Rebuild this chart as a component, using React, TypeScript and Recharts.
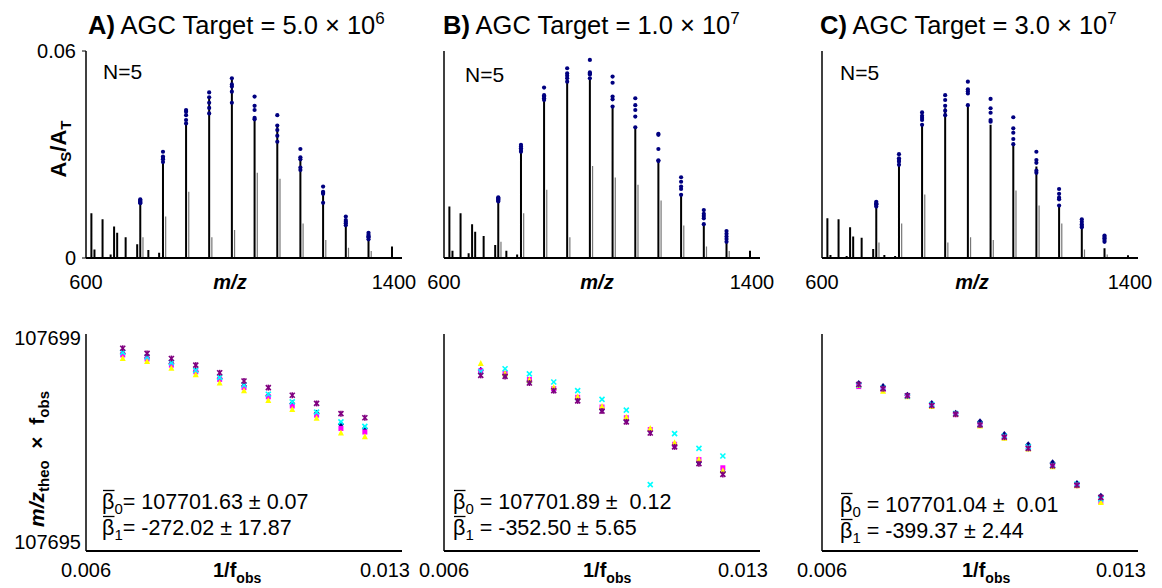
import React from 'react'
import { ComposedChart, ScatterChart, Line, Scatter, XAxis, YAxis } from 'recharts'

// charge-state peaks (m/z) shared by the three spectra
const chargeMz = [741, 800, 860, 920, 979, 1038, 1097, 1157, 1216, 1275, 1334]
const adductMz = [748, 807, 867, 927, 986, 1045, 1104, 1164, 1223, 1282, 1341]
const minorMz = [614, 622, 643, 664, 673, 681, 703, 733, 762, 790, 1395]

// spectrum stick heights (A_S/A_T)
const lineA = [0.0159, 0.0278, 0.039, 0.0463, 0.0516, 0.0402, 0.0386, 0.0294, 0.0192, 0.011, 0.006]
const lineB = [0.0164, 0.0308, 0.0458, 0.0516, 0.0521, 0.0439, 0.0379, 0.0282, 0.0183, 0.0098, 0.0047]
const lineC = [0.0149, 0.027, 0.0386, 0.0434, 0.0443, 0.0386, 0.033, 0.0265, 0.0152, 0.0086, 0.0028]
const adductA = [0.006, 0.012, 0.0192, 0.006, 0.0081, 0.0247, 0.023, 0.01, 0.0052, 0.003, 0.002]
const adductB = [0.0047, 0.013, 0.0198, 0.006, 0.0267, 0.0233, 0.0212, 0.0167, 0.0094, 0.0033, 0.002]
const adductC = [0.0045, 0.01, 0.0184, 0.0045, 0.006, 0.0052, 0.0196, 0.0152, 0.01, 0.0025, 0.001]
const minorA = [0.013, 0.0025, 0.0112, 0.001, 0.0091, 0.0073, 0.006, 0.004, 0.0023, 0.0015, 0.0033]
const minorB = [0.0149, 0.0021, 0.013, 0.0014, 0.0098, 0.0076, 0.0064, 0.0038, 0.0021, 0.001, 0.0021]
const minorC = [0.0115, 0.0009, 0.0112, 0.0006, 0.0089, 0.0062, 0.0059, 0.0026, 0.0009, 0.0006, 0.0008]

// N=5 replicate abundances per charge state
const dotsA = [
  [0.017, 0.0167, 0.0164, 0.0161, 0.0159],
  [0.0308, 0.0294, 0.029, 0.0286, 0.0278],
  [0.0429, 0.0424, 0.0414, 0.04, 0.039],
  [0.048, 0.0466, 0.045, 0.0435, 0.0419],
  [0.0521, 0.0503, 0.0497, 0.0482, 0.045],
  [0.0468, 0.0441, 0.0429, 0.0406, 0.0402],
  [0.0414, 0.0384, 0.0371, 0.0354, 0.0337],
  [0.0316, 0.0292, 0.0286, 0.0262, 0.0255],
  [0.0207, 0.0192, 0.0189, 0.0186, 0.016],
  [0.012, 0.011, 0.0105, 0.0101, 0.0095],
  [0.0073, 0.0067, 0.0063, 0.006, 0.0054],
]
const dotsB = [
  [0.0176, 0.0173, 0.017, 0.0167, 0.0164],
  [0.0328, 0.0323, 0.0318, 0.0313, 0.0308],
  [0.0494, 0.0472, 0.0468, 0.0463, 0.0458],
  [0.055, 0.0535, 0.0528, 0.0521, 0.0511],
  [0.0574, 0.0538, 0.0535, 0.0532, 0.0521],
  [0.0526, 0.0508, 0.0468, 0.046, 0.0439],
  [0.0463, 0.0443, 0.0429, 0.041, 0.0379],
  [0.036, 0.0357, 0.0316, 0.0283, 0.0281],
  [0.0234, 0.0221, 0.0207, 0.02, 0.0183],
  [0.0139, 0.0128, 0.0122, 0.0115, 0.0098],
  [0.0078, 0.007, 0.0062, 0.0055, 0.0047],
]
const dotsC = [
  [0.0163, 0.0159, 0.0156, 0.0154, 0.0149],
  [0.0301, 0.0289, 0.0284, 0.0279, 0.027],
  [0.0422, 0.0412, 0.0406, 0.04, 0.0386],
  [0.0472, 0.0458, 0.0441, 0.0427, 0.0414],
  [0.0511, 0.0489, 0.0483, 0.0477, 0.0443],
  [0.0461, 0.0434, 0.0421, 0.04, 0.0395],
  [0.0408, 0.0376, 0.0363, 0.0345, 0.033],
  [0.0308, 0.0284, 0.0276, 0.0253, 0.0247],
  [0.02, 0.0186, 0.0175, 0.017, 0.0152],
  [0.0112, 0.0105, 0.0098, 0.0093, 0.0089],
  [0.0065, 0.0061, 0.0057, 0.0052, 0.0047],
]

// bottom row: 1/f_obs and m/z_theo x f_obs for the five replicates
const invF = [0.00686, 0.00743, 0.008, 0.00857, 0.00913, 0.0097, 0.01027, 0.01083, 0.0114, 0.01197, 0.01253]

const navyA = [107698.7, 107698.61, 107698.5, 107698.35, 107698.21, 107698.06, 107697.87, 107697.72, 107697.53, 107697.31, 107697.23]
const magentaA = [107698.67, 107698.59, 107698.47, 107698.34, 107698.19, 107698.03, 107697.85, 107697.67, 107697.49, 107697.23, 107697.16]
const yellowA = [107698.6, 107698.54, 107698.41, 107698.28, 107698.12, 107697.97, 107697.78, 107697.6, 107697.43, 107697.14, 107697.07]
const cyanA = [107698.72, 107698.63, 107698.52, 107698.37, 107698.23, 107698.08, 107697.9, 107697.75, 107697.55, 107697.36, 107697.27]
const purpleA = [107698.8, 107698.7, 107698.6, 107698.47, 107698.32, 107698.16, 107698.03, 107697.88, 107697.72, 107697.52, 107697.44]

const navyB = [107698.37, 107698.27, 107698.14, 107697.99, 107697.8, 107697.6, 107697.39, 107697.18, 107696.89, 107696.57, 107696.38]
const magentaB = [107698.36, 107698.31, 107698.19, 107698.01, 107697.84, 107697.65, 107697.44, 107697.21, 107696.92, 107696.62, 107696.46]
const yellowB = [107698.5, 107698.3, 107698.18, 107698.03, 107697.85, 107697.66, 107697.45, 107697.23, 107696.95, 107696.62, 107696.4]
const cyanB = [107698.34, 107698.4, 107698.3, 107698.14, 107697.97, 107697.8, 107697.59, 107696.13, 107697.13, 107696.84, 107696.69]
const purpleB = [107698.27, 107698.25, 107698.12, 107697.97, 107697.77, 107697.57, 107697.36, 107697.14, 107696.87, 107696.54, 107696.33]

const navyC = [107698.11, 107698.05, 107697.88, 107697.72, 107697.53, 107697.36, 107697.11, 107696.91, 107696.56, 107696.15, 107695.9]
const magentaC = [107698.05, 107697.99, 107697.86, 107697.67, 107697.5, 107697.29, 107697.05, 107696.85, 107696.49, 107696.12, 107695.8]
const yellowC = [107698.07, 107697.96, 107697.85, 107697.66, 107697.51, 107697.28, 107697.04, 107696.83, 107696.48, 107696.11, 107695.78]
const cyanC = [107698.08, 107698.02, 107697.86, 107697.7, 107697.52, 107697.31, 107697.08, 107696.87, 107696.51, 107696.14, 107695.85]
const purpleC = [107698.09, 107698.01, 107697.87, 107697.68, 107697.51, 107697.3, 107697.06, 107696.84, 107696.5, 107696.12, 107695.88]

const FONT = '"Liberation Sans", Arial, sans-serif'
const tickStyle = { fill: '#000', fontSize: 20, fontFamily: FONT }
const NB = '\u00a0'

// turn (m/z, height) pairs into a stick spectrum: baseline -> top -> baseline
const sticks = (mzs: number[][], hs: number[][]) => {
  const peaks = mzs
    .flatMap((mz, k) => mz.map((x, i) => ({ x, h: hs[k][i] })))
    .sort((a, b) => a.x - b.x)
  const out: { x: number; y: number }[] = []
  peaks.forEach((p) => {
    out.push({ x: p.x, y: 0 }, { x: p.x, y: p.h }, { x: p.x, y: 0 })
  })
  return out
}

const dotData = (dots: number[][]) =>
  dots.flatMap((reps, i) => reps.map((y) => ({ x: chargeMz[i], y })))

const Dot = (p: any) => (p.cx == null ? null : <circle cx={p.cx} cy={p.cy} r={2.1} fill="#000080" />)

const Marker = ({ cx, cy, kind, color }: any) => {
  if (cx == null || cy == null) return null
  if (kind === 'diamond')
    return <polygon points={`${cx},${cy - 3.5} ${cx + 3},${cy} ${cx},${cy + 3.5} ${cx - 3},${cy}`} fill={color} />
  if (kind === 'square') return <rect x={cx - 2.5} y={cy - 2.5} width={5} height={5} fill={color} />
  if (kind === 'triangle')
    return <polygon points={`${cx},${cy - 3.5} ${cx + 3},${cy + 2.5} ${cx - 3},${cy + 2.5}`} fill={color} />
  return (
    <g stroke={color} strokeWidth={1.6}>
      <line x1={cx - 2.5} y1={cy - 2.5} x2={cx + 2.5} y2={cy + 2.5} />
      <line x1={cx - 2.5} y1={cy + 2.5} x2={cx + 2.5} y2={cy - 2.5} />
      {kind === 'star' && <line x1={cx} y1={cy - 3} x2={cx} y2={cy + 3} />}
    </g>
  )
}

// plot area of every panel: x from 86 to 402 inside a 432 wide chart
const Y_W = 80
const X_H = 30

const SpectrumPanel = ({ left, line, adduct, minor, dots, showY }: any) => (
  <div style={{ position: 'absolute', left, top: 0 }}>
    <ComposedChart width={432} height={300} margin={{ top: 51, right: 30, bottom: 42 - X_H, left: 86 - Y_W }}>
      <XAxis
        type="number"
        dataKey="x"
        domain={[600, 1421]}
        ticks={[600, 1400]}
        interval={0}
        allowDataOverflow
        height={X_H}
        tickLine={false}
        tickSize={0}
        tickMargin={17}
        tick={tickStyle}
        axisLine={{ stroke: '#000', strokeWidth: 2 }}
      />
      <YAxis
        type="number"
        dataKey="y"
        domain={[0, 0.06]}
        ticks={[0, 0.06]}
        interval={0}
        allowDataOverflow
        width={Y_W}
        tick={showY ? tickStyle : false}
        tickLine={showY ? { stroke: '#000' } : false}
        tickSize={4}
        tickMargin={6}
        axisLine={{ stroke: '#000', strokeWidth: 1.5 }}
      />
      <Line
        data={sticks([adductMz], [adduct])}
        dataKey="y"
        type="linear"
        stroke="#777"
        strokeWidth={1.2}
        dot={false}
        activeDot={false}
        isAnimationActive={false}
      />
      <Line
        data={sticks([minorMz, chargeMz], [minor, line])}
        dataKey="y"
        type="linear"
        stroke="#000"
        strokeWidth={2}
        dot={false}
        activeDot={false}
        isAnimationActive={false}
      />
      <Scatter data={dotData(dots)} dataKey="y" shape={Dot} isAnimationActive={false} />
    </ComposedChart>
  </div>
)

const CalibPanel = ({ left, navy, magenta, yellow, cyan, purple, showY }: any) => {
  const series = [
    { name: 'r1', ys: navy, color: '#000080', kind: 'diamond' },
    { name: 'r2', ys: magenta, color: '#FF00FF', kind: 'square' },
    { name: 'r3', ys: yellow, color: '#FFFF00', kind: 'triangle' },
    { name: 'r4', ys: cyan, color: '#00FFFF', kind: 'x' },
    { name: 'r5', ys: purple, color: '#800080', kind: 'star' },
  ]
  return (
    <div style={{ position: 'absolute', left, top: 290 }}>
      <ScatterChart width={432} height={298} margin={{ top: 44, right: 30, bottom: 37 - X_H, left: 86 - Y_W }}>
        <XAxis
          type="number"
          dataKey="x"
          domain={[0.006, 0.0134]}
          ticks={[0.006, 0.013]}
          interval={0}
          allowDataOverflow
          height={X_H}
          tickLine={false}
          tickSize={0}
          tickMargin={12}
          tickFormatter={(v: number) => v.toFixed(3)}
          tick={tickStyle}
          axisLine={{ stroke: '#000', strokeWidth: 2 }}
        />
        <YAxis
          type="number"
          dataKey="y"
          domain={[107694.83, 107699.08]}
          ticks={[107695, 107699]}
          interval={0}
          allowDataOverflow
          width={Y_W}
          tick={showY ? tickStyle : false}
          tickLine={false}
          tickSize={2}
          tickMargin={3}
          axisLine={{ stroke: '#000', strokeWidth: 1.5 }}
        />
        {series.map((s) => (
          <Scatter
            key={s.name}
            name={s.name}
            data={invF.map((x, i) => ({ x, y: s.ys[i] }))}
            shape={(p: any) => <Marker {...p} kind={s.kind} color={s.color} />}
            isAnimationActive={false}
          />
        ))}
      </ScatterChart>
    </div>
  )
}

const Title = ({ x, tag, val, exp }: any) => (
  <text x={x} y={34} fontSize={25.5}>
    <tspan fontWeight="bold">{tag}</tspan> AGC Target = {val} × 10
    <tspan dy={-10} fontSize={17}>{exp}</tspan>
  </text>
)

// beta-bar line: β with an overbar, subscript index, then the value
const BetaLine = ({ x, y, idx, rest }: any) => (
  <g>
    <line x1={x + 1} y1={y - 18.5} x2={x + 12.5} y2={y - 18.5} stroke="#000" strokeWidth={1.3} />
    <text x={x} y={y} fontSize={21.5}>
      β<tspan dy={5} fontSize={15}>{idx}</tspan>
      <tspan dy={-5}>{rest}</tspan>
    </text>
  </g>
)

const Stats = ({ x, y, b0, b1 }: any) => (
  <g>
    <BetaLine x={x} y={y} idx="0" rest={b0} />
    <BetaLine x={x} y={y + 26} idx="1" rest={b1} />
  </g>
)

const FObs = ({ x }: any) => (
  <text x={x} y={577} fontSize={20} fontWeight="bold">
    1/f<tspan dy={6} fontSize={14}>obs</tspan>
  </text>
)

export default function App() {
  return (
    <div
      style={{
        position: 'absolute',
        left: 0,
        top: 0,
        width: 1162,
        height: 588,
        background: '#fff',
        fontFamily: FONT,
        overflow: 'hidden',
      }}
    >
      <SpectrumPanel left={0} line={lineA} adduct={adductA} minor={minorA} dots={dotsA} showY />
      <SpectrumPanel left={358} line={lineB} adduct={adductB} minor={minorB} dots={dotsB} />
      <SpectrumPanel left={736} line={lineC} adduct={adductC} minor={minorC} dots={dotsC} />
      <CalibPanel left={0} navy={navyA} magenta={magentaA} yellow={yellowA} cyan={cyanA} purple={purpleA} showY />
      <CalibPanel left={358} navy={navyB} magenta={magentaB} yellow={yellowB} cyan={cyanB} purple={purpleB} />
      <CalibPanel left={736} navy={navyC} magenta={magentaC} yellow={yellowC} cyan={cyanC} purple={purpleC} />

      <svg
        width={1162}
        height={588}
        style={{ position: 'absolute', left: 0, top: 0, pointerEvents: 'none' }}
        fontFamily={FONT}
        fill="#000"
      >
        <Title x={88} tag="A)" val="5.0" exp="6" />
        <Title x={443} tag="B)" val="1.0" exp="7" />
        <Title x={820} tag="C)" val="3.0" exp="7" />

        <text x={103} y={79} fontSize={21}>N=5</text>
        <text x={465} y={82} fontSize={21}>N=5</text>
        <text x={840} y={80} fontSize={21}>N=5</text>

        <g transform="translate(58,149) rotate(-90)">
          <text x={0} y={8} fontSize={22} fontWeight="bold" textAnchor="middle">
            A<tspan dy={5} fontSize={15}>S</tspan>
            <tspan dy={-5}>/A</tspan>
            <tspan dy={5} fontSize={15}>T</tspan>
          </text>
        </g>
        <g transform="translate(37,459) rotate(-90)">
          <text x={0} y={7} fontSize={21} fontWeight="bold" textAnchor="middle">
            <tspan fontStyle="italic">m/z</tspan>
            <tspan dy={5} fontSize={15}>theo</tspan>
            <tspan dy={-5}>{`${NB}${NB}×${NB}${NB}f`}</tspan>
            <tspan dy={5} fontSize={15}>obs</tspan>
          </text>
        </g>

        <text x={230} y={289} fontSize={20} fontWeight="bold" fontStyle="italic" textAnchor="middle">m/z</text>
        <text x={597} y={289} fontSize={20} fontWeight="bold" fontStyle="italic" textAnchor="middle">m/z</text>
        <text x={972} y={289} fontSize={20} fontWeight="bold" fontStyle="italic" textAnchor="middle">m/z</text>

        <FObs x={213} />
        <FObs x={583} />
        <FObs x={962} />

        <Stats x={102} y={509} b0="= 107701.63 ± 0.07" b1="= -272.02 ± 17.87" />
        <Stats x={453} y={509} b0={` = 107701.89 ±${NB} 0.12`} b1=" = -352.50 ± 5.65" />
        <Stats x={840} y={512} b0={` = 107701.04 ±${NB} 0.01`} b1=" = -399.37 ± 2.44" />
      </svg>
    </div>
  )
}
